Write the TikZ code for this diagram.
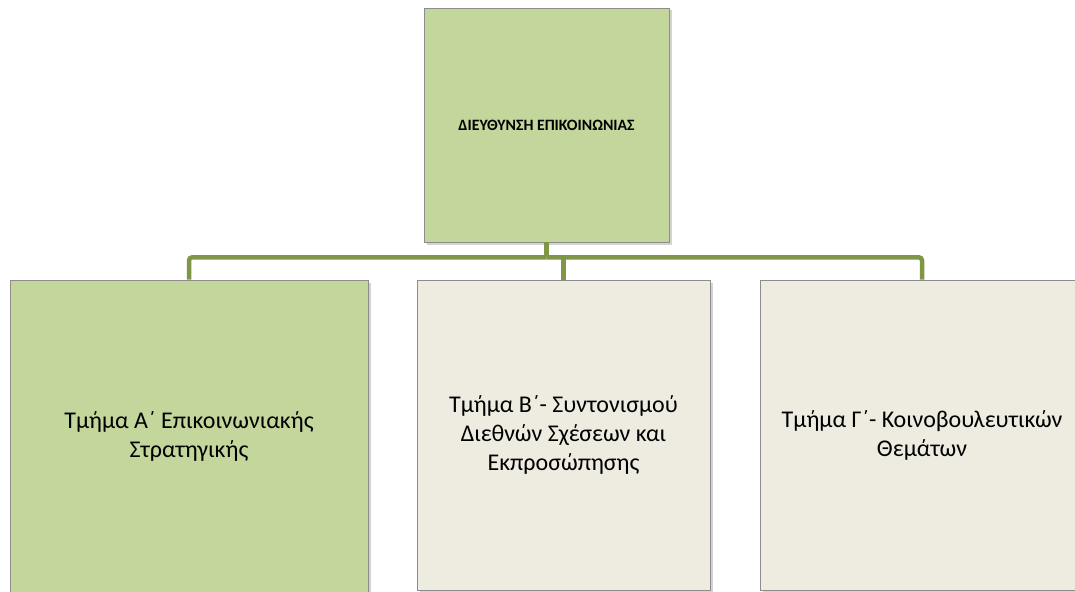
\documentclass[tikz,border=0pt]{standalone}
\usepackage{fontspec}
\setmainfont{Carlito}
\usetikzlibrary{shadows}
\definecolor{boxgreen}{HTML}{C3D69B}
\definecolor{boxbeige}{HTML}{EEECE1}
\definecolor{linegreen}{HTML}{7F9647}
\definecolor{boxborder}{HTML}{8C8C8C}
\begin{document}
\begin{tikzpicture}[x=1pt,y=-1pt,
  box/.style={draw=boxborder, line width=0.8pt, inner sep=0pt, align=center,
    drop shadow={shadow xshift=2.5pt,shadow yshift=-2.5pt,opacity=0.35}},
  subtext/.style={font=\fontsize{24}{29}\selectfont},
  conn/.style={draw=linegreen, line width=4.5pt, rounded corners=3pt}]
\useasboundingbox (0,0) rectangle (1075,591);
\clip (0,0) rectangle (1075,591);
\node[box, fill=boxgreen, minimum width=245pt, minimum height=234pt,
  font=\bfseries\fontsize{15.8}{18}\selectfont] (top) at (546.5,125) {ΔΙΕΥΘΥΝΣΗ ΕΠΙΚΟΙΝΩΝΙΑΣ};
\node[box, subtext, fill=boxgreen, minimum width=358pt, minimum height=312pt] (left) at (189,436)
  {Τμήμα Α΄ Επικοινωνιακής\\Στρατηγικής};
\node[box, subtext, fill=boxbeige, minimum width=293pt, minimum height=310pt] (mid) at (563.5,435)
  {Τμήμα Β΄- Συντονισμού\\Διεθνών Σχέσεων και\\Εκπροσώπησης};
\node[box, subtext, fill=boxbeige, minimum width=324pt, minimum height=310pt] (right) at (922,435)
  {Τμήμα Γ΄- Κοινοβουλευτικών\\Θεμάτων};
\path (top.south) ++(0,15) coordinate (j);
\draw[conn] (top.south) -- (j);
\draw[conn] (j) -| (left.north);
\draw[conn] (j) -| (right.north);
\draw[conn] (mid.north |- j) -- (mid.north);
\end{tikzpicture}
\end{document}
